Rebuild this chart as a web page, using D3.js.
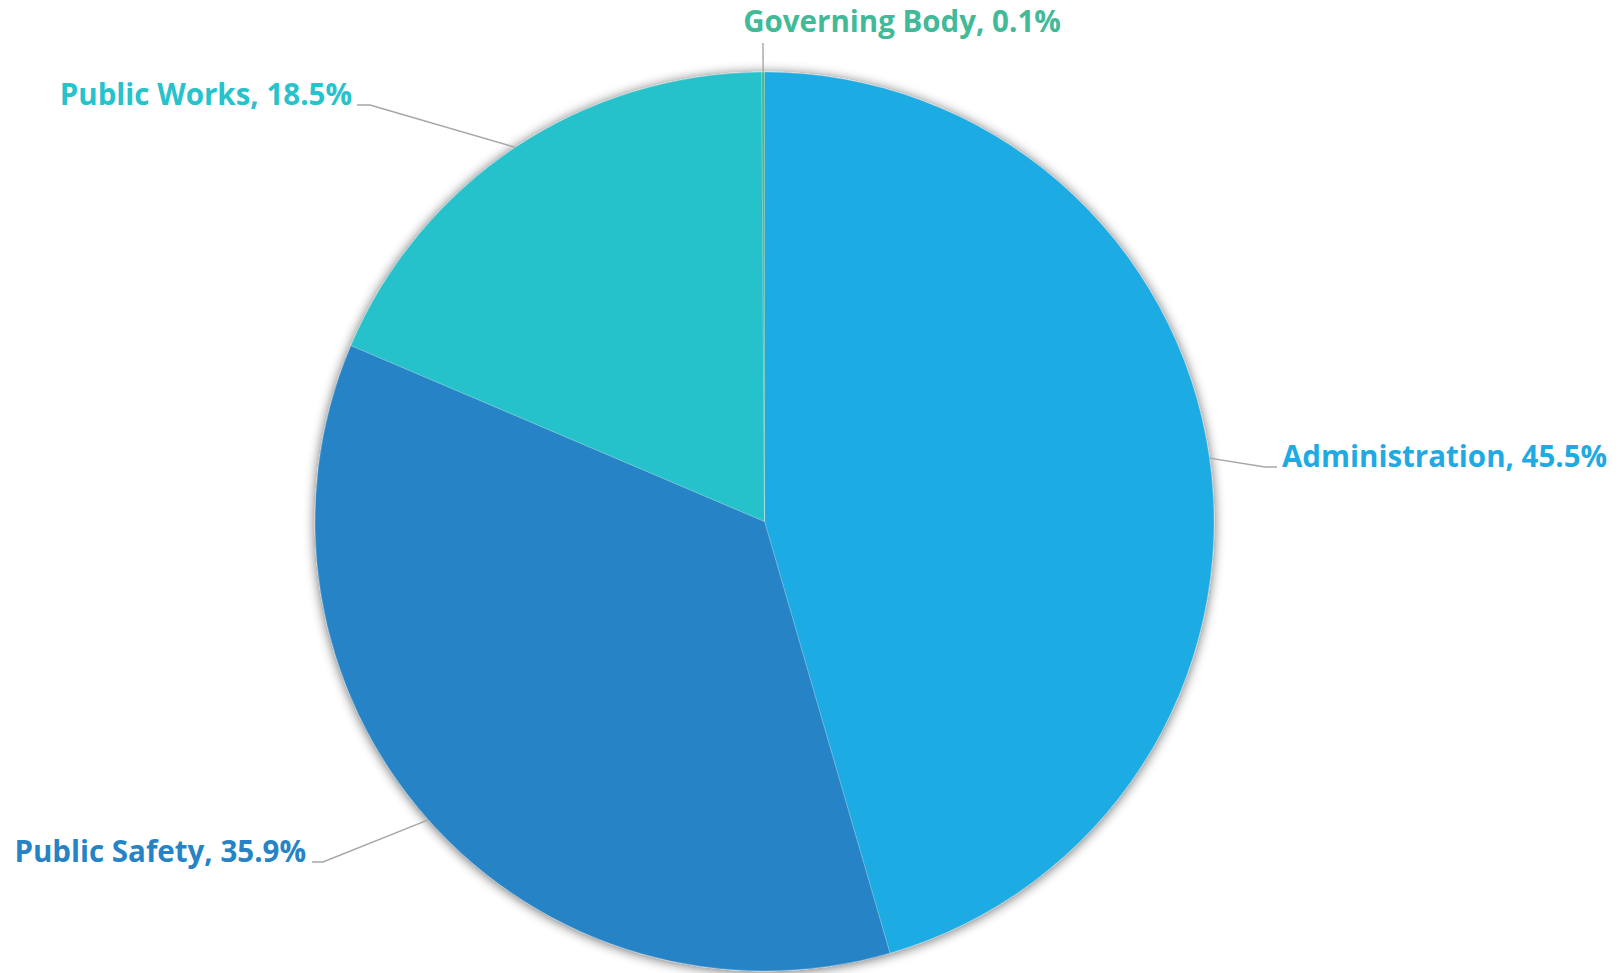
<!DOCTYPE html>
<html>
<head>
<meta charset="utf-8">
<script src="https://cdn.jsdelivr.net/npm/d3@7"></script>
<style>
  html, body { margin: 0; padding: 0; background: #ffffff; }
  svg { display: block; }
  .label { font-family: "Open Sans", Lato, sans-serif; font-weight: 700; }
</style>
</head>
<body>
<svg id="chart" width="1619" height="973"></svg>
<script>
// Budget share by department (percent of total)
const categories = ["Administration", "Public Safety", "Public Works", "Governing Body"];
const shares = [45.5, 35.9, 18.5, 0.1];
const colors = ["#1FABE2", "#2683C6", "#27C2CB", "#42BA97"];

const width = 1619, height = 973;
const cx = 764.5, cy = 521.5, radius = 449.5;

const svg = d3.select("#chart");

const defs = svg.append("defs");
const glow = defs.append("filter").attr("id", "pieShadow")
  .attr("x", "-10%").attr("y", "-10%").attr("width", "120%").attr("height", "120%");
glow.append("feGaussianBlur").attr("in", "SourceAlpha").attr("stdDeviation", 6).attr("result", "blur");
glow.append("feOffset").attr("in", "blur").attr("dx", 0).attr("dy", 1).attr("result", "off");
glow.append("feComponentTransfer").attr("in", "off").attr("result", "soft")
  .append("feFuncA").attr("type", "linear").attr("slope", 0.6);
const merge = glow.append("feMerge");
merge.append("feMergeNode").attr("in", "soft");
merge.append("feMergeNode").attr("in", "SourceGraphic");

const data = categories.map((c, i) => ({ name: c, value: shares[i], color: colors[i] }));

const pie = d3.pie().sort(null).value(d => d.value);
const arcs = pie(data);
const arc = d3.arc().innerRadius(0).outerRadius(radius);

const g = svg.append("g").attr("transform", `translate(${cx},${cy})`);

g.append("g").attr("filter", "url(#pieShadow)")
  .selectAll("path")
  .data(arcs)
  .join("path")
  .attr("d", arc)
  .attr("fill", d => d.data.color)
  .attr("stroke", "#ffffff")
  .attr("stroke-opacity", 0.35)
  .attr("stroke-width", 0.6);

// Label placement: elbow of the leader line and text anchor, relative to the page
const labelLayout = {
  "Administration": { elbow: [1265, 467], end: [1277, 467], text: [1282, 467], anchor: "start" },
  "Public Safety":  { elbow: [323, 862],  end: [312, 862],  text: [306, 862],  anchor: "end" },
  "Public Works":   { elbow: [370, 105],  end: [357, 105],  text: [352, 105],  anchor: "end" },
  "Governing Body": { elbow: [763, 43],   end: [763, 43],   text: [902, 32],   anchor: "middle" }
};

const labels = svg.append("g");
arcs.forEach(a => {
  const L = labelLayout[a.data.name];
  const mid = (a.startAngle + a.endAngle) / 2;
  const px = cx + radius * Math.sin(mid);
  const py = cy - radius * Math.cos(mid);
  labels.append("polyline")
    .attr("points", [[px, py], L.elbow, L.end].map(p => p.join(",")).join(" "))
    .attr("fill", "none")
    .attr("stroke", "#A6A6A6")
    .attr("stroke-width", 1.4);
  labels.append("text")
    .attr("class", "label")
    .attr("x", L.text[0])
    .attr("y", L.text[1])
    .attr("text-anchor", L.anchor)
    .attr("fill", a.data.color)
    .attr("font-size", 29.5)
    .text(`${a.data.name}, ${d3.format(".1f")(a.data.value)}%`);
});
</script>
</body>
</html>
